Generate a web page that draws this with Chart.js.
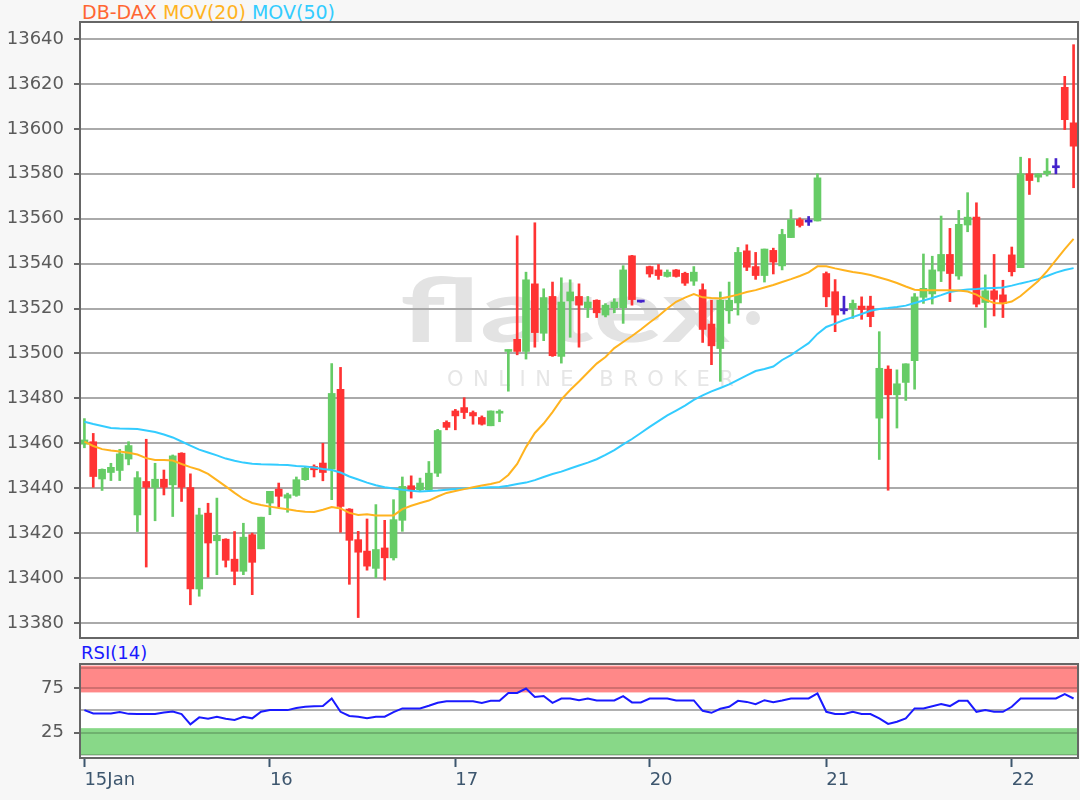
<!DOCTYPE html>
<html>
<head>
<meta charset="utf-8">
<script src="https://cdn.jsdelivr.net/npm/chart.js@4.4.1/dist/chart.umd.min.js"></script>
<style>
  body { margin: 0; width: 1080px; height: 800px; overflow: hidden; background: #f7f7f7; font-family: "DejaVu Sans", sans-serif; }
  canvas { position: absolute; left: 0; }
  #main { top: 0; }
  #rsi { top: 640px; }
  .title { position: absolute; left: 82px; top: 1px; font-size: 19px; line-height: 22px; white-space: pre; }
  .rsiLabel { position: absolute; left: 81px; top: 643px; font-size: 18px; line-height: 20px; color: #1a1aff; }
</style>
</head>
<body>
<div class="title"><span style="color:#ff6633">DB-DAX</span> <span style="color:#ffb31f">MOV(20)</span> <span style="color:#33ccff">MOV(50)</span></div>
<div class="rsiLabel">RSI(14)</div>
<canvas id="main" width="1080" height="660"></canvas>
<canvas id="rsi" width="1080" height="160"></canvas>
<script>
// Candles (one per bar)
var opens = [
  13459.6, 13460.7, 13444.1, 13447, 13447.9, 13453, 13428.1, 13443, 13440.3, 13444,
  13441.5, 13455.6, 13440.3, 13395.1, 13428.9, 13416.6, 13417.3, 13408.4, 13403, 13419.3,
  13413, 13433.4, 13439.6, 13435.6, 13436.8, 13443.8, 13449.7, 13451.2, 13448.5, 13484,
  13430.7, 13417.1, 13412, 13404.3, 13413.4, 13409, 13425.7, 13441.1, 13439.3, 13439.3,
  13446.7, 13469.3, 13474.4, 13475.9, 13473.7, 13471.5, 13467.8, 13473.4, 13500.9, 13506.3,
  13500.9, 13531, 13509, 13525.4, 13498.7, 13523.4, 13525.4, 13520.4, 13523.7, 13517.1,
  13520.4, 13520.4, 13543.5, 13522.9, 13538.7, 13537.2, 13534.3, 13537.2, 13535.7, 13532.2,
  13528.4, 13513.1, 13502.2, 13519, 13522.5, 13545.7, 13538.7, 13534.7, 13545.9, 13539,
  13551.6, 13559.6, 13558.5, 13559, 13535.6, 13527.5, 13519, 13520.1, 13521.1, 13521.1,
  13471.2, 13493, 13481.6, 13487.1, 13496.8, 13525, 13526.5, 13536.7, 13544.1, 13534.5,
  13557.2, 13560.7, 13522.7, 13527.9, 13526.1, 13543.9, 13538.2, 13580, 13578.5, 13580,
  13582.7, 13618.5, 13602.7
];
var highs = [
  13471, 13464.4, 13448.6, 13451.1, 13457.3, 13460.7, 13447.4, 13461.8, 13451.1, 13448.1,
  13454.8, 13455.8, 13446.4, 13431.1, 13433.3, 13435.6, 13417.5, 13420.7, 13424.4, 13420,
  13427.1, 13438.6, 13442.3, 13437.8, 13445, 13449.7, 13450.4, 13460, 13495.5, 13493.8,
  13430.9, 13420.8, 13426.3, 13432.7, 13425.7, 13434.9, 13445, 13445.5, 13444.5, 13451.9,
  13466.2, 13470, 13475.1, 13480.3, 13474.4, 13472.2, 13474.4, 13474.9, 13501.6, 13552.4,
  13536.2, 13558.2, 13528.8, 13531.8, 13533.7, 13532.8, 13531, 13525.4, 13523.9, 13522.2,
  13524.4, 13539.1, 13543.7, 13523, 13538.9, 13539.6, 13537.2, 13537.4, 13536.2, 13538.7,
  13531, 13523.7, 13527.4, 13531.8, 13547.2, 13548.4, 13545, 13546.5, 13546.9, 13555.3,
  13564, 13560.4, 13561, 13580, 13536.3, 13532.9, 13525.5, 13523.8, 13525.2, 13525.5,
  13509.7, 13494.5, 13492.7, 13495.4, 13526.7, 13544.3, 13543.3, 13561.2, 13555.7, 13563.7,
  13571.6, 13567.1, 13535, 13544.1, 13532.6, 13547.4, 13587.4, 13586.8, 13580, 13586.8,
  13586.8, 13623.4, 13637.5
];
var lows = [
  13458, 13440.4, 13439, 13443.4, 13443.4, 13450.4, 13420.7, 13404.9, 13425.5, 13437,
  13427.4, 13434.1, 13388.1, 13391.9, 13400.4, 13401.5, 13404.9, 13397, 13401.5, 13392.6,
  13413, 13428.2, 13431.6, 13429.3, 13436.4, 13443.5, 13445, 13443.3, 13434.9, 13420.4,
  13397.2, 13382.4, 13403.5, 13400.1, 13399.1, 13408, 13420.8, 13435.6, 13438.6, 13438.6,
  13445.2, 13466, 13466, 13471, 13468.5, 13468.1, 13467.8, 13469.6, 13483.2, 13499.4,
  13497.5, 13502.8, 13505.7, 13498.7, 13495.7, 13507.2, 13502.8, 13516, 13516, 13516.3,
  13518.1, 13513.4, 13521.5, 13522.8, 13534, 13533, 13534, 13534, 13530.3, 13530.3,
  13504.9, 13495, 13487.6, 13513.4, 13517.1, 13536.9, 13533, 13531.8, 13535.4, 13537.2,
  13551.6, 13556.3, 13557, 13559, 13520.8, 13509.7, 13517.5, 13515.6, 13515.2, 13511.9,
  13452.8, 13439.1, 13466.8, 13479.1, 13484.1, 13522.3, 13522, 13532, 13523.1, 13533,
  13554.2, 13520.7, 13511.6, 13516.7, 13516, 13534.5, 13538.2, 13570.8, 13576.4, 13579,
  13580, 13599.7, 13573.8
];
var closes = [
  13461.5, 13445.2, 13448.4, 13449.3, 13455.3, 13459, 13444.7, 13440.4, 13444, 13440.4,
  13454.4, 13440.4, 13395.1, 13428.1, 13415.6, 13419, 13407.9, 13403, 13418.2, 13407,
  13427.1, 13438.6, 13436.4, 13437.1, 13443.8, 13448.9, 13448.2, 13447, 13482.2, 13431.9,
  13416.8, 13411.5, 13405.3, 13412.7, 13409, 13426, 13440.8, 13439.3, 13442.3, 13446.7,
  13465.7, 13467.1, 13472.2, 13473.7, 13472.2, 13468.5, 13474.4, 13474, 13501.6, 13500.9,
  13532.8, 13509.3, 13524.9, 13499, 13522.9, 13527.4, 13521.5, 13522.9, 13518.1, 13521.5,
  13522.9, 13537.2, 13524, 13522.9, 13535.4, 13534.7, 13536.2, 13534.3, 13531.3, 13536.2,
  13510.7, 13503.4, 13523.7, 13523.7, 13545, 13538.4, 13534.7, 13546.5, 13540.7, 13553,
  13559.6, 13557, 13558.5, 13578.2, 13525.2, 13517.1, 13519, 13522.3, 13519.6, 13516.4,
  13493.4, 13481.6, 13486.5, 13495.4, 13525.2, 13529, 13537.2, 13544.1, 13535.6, 13557.5,
  13560.7, 13521.9, 13527.9, 13524.1, 13522.2, 13536.4, 13580, 13577, 13580, 13581.2,
  13582.7, 13604.1, 13592.3
];

// Moving averages at each bar
var ma20 = [
  13460.7, 13458.8, 13457.4, 13456.8, 13456.3, 13455.8, 13455.0, 13453.4, 13452.6, 13452.6,
  13452.3, 13450.8, 13449.4, 13448.2, 13446.4, 13443.6, 13440.8, 13437.9, 13435.2, 13433.4,
  13432.5, 13431.8, 13431.2, 13430.6, 13430.0, 13429.5, 13429.4, 13430.4, 13431.6, 13431.0,
  13429.0, 13428.1, 13428.4, 13427.9, 13427.8, 13427.9, 13430.7, 13432.2, 13433.4, 13434.5,
  13436.3, 13437.9, 13438.8, 13439.6, 13440.4, 13441.2, 13441.9, 13442.8, 13445.9, 13450.8,
  13458.3, 13464.6, 13468.8, 13473.9, 13479.5, 13483.7, 13487.5, 13491.5, 13495.5, 13498.4,
  13502.4, 13505.1, 13507.8, 13510.7, 13513.8, 13516.7, 13520.0, 13523.0, 13524.9, 13526.4,
  13525.0, 13524.7, 13524.5, 13525.3, 13526.2, 13527.4, 13528.2, 13529.4, 13530.5, 13531.8,
  13533.1, 13534.5, 13536.1, 13538.8, 13538.8, 13537.9, 13537.1, 13536.3, 13535.7, 13534.9,
  13533.8, 13532.7, 13531.4, 13529.8, 13528.4, 13528.2, 13528.2, 13528.2, 13528.2, 13528.0,
  13527.6, 13526.2, 13524.0, 13522.5, 13522.3, 13523.1, 13525.6, 13528.9, 13532.3, 13536.7,
  13541.6, 13546.5, 13551.0
];
var ma50 = [
  13469.6, 13468.6, 13467.7, 13466.8, 13466.6, 13466.5, 13466.4, 13465.7, 13465.0, 13463.9,
  13462.6, 13460.8, 13459.0, 13457.2, 13455.9, 13454.6, 13453.2, 13452.2, 13451.4, 13450.9,
  13450.7, 13450.6, 13450.4, 13450.3, 13449.9, 13449.7, 13449.2, 13448.6, 13448.1, 13447.0,
  13445.2, 13443.9, 13442.5, 13441.3, 13440.4, 13439.9, 13439.3, 13438.9, 13438.5, 13438.8,
  13439.0, 13439.3, 13439.6, 13439.9, 13440.1, 13440.2, 13440.4, 13440.5, 13441.1, 13441.9,
  13442.5, 13443.6, 13445.0, 13446.3, 13447.4, 13448.8, 13450.1, 13451.4, 13452.9, 13454.8,
  13457.0, 13459.5, 13461.9, 13464.6, 13467.3, 13469.9, 13472.4, 13474.6, 13476.8, 13479.3,
  13481.3, 13483.1, 13484.6, 13486.2, 13488.2, 13490.2, 13492.2, 13493.1, 13494.2, 13497.1,
  13499.3, 13502.0, 13504.6, 13508.7, 13511.8, 13513.3, 13514.9, 13516.2, 13517.6, 13519.0,
  13519.8, 13520.2, 13520.7, 13521.3, 13522.5, 13523.6, 13524.7, 13526.0, 13527.4, 13528.0,
  13528.5, 13528.7, 13529.0, 13529.2, 13529.4, 13530.2, 13531.2, 13532.1, 13533.1, 13534.5,
  13536.0, 13537.2, 13538.0
];

// RSI(14)
var rsi = [
  50.2, 46.5, 46.5, 46.5, 48, 46, 45.8, 45.8, 45.8, 47.5,
  48.5, 45.8, 34.3, 42.1, 40.6, 42.8, 40.6, 39.1, 42.8, 41,
  48.3, 50.2, 50.2, 50.2, 52.5, 53.9, 54.5, 54.7, 63.2, 48.3,
  43.6, 42.8, 41, 42.8, 42.8, 48, 52.1, 52.1, 52.1, 55,
  58.5, 60.2, 60.2, 60.2, 60.2, 58.3, 60.6, 60.6, 69.4, 69.4,
  74.3, 65, 66, 58.3, 63.2, 63.2, 61.3, 63.2, 61, 61,
  61, 65.8, 58.8, 58.8, 63.2, 63.2, 63.2, 61, 61, 61,
  49.4, 47.2, 51.7, 53.9, 60.6, 59.4, 56.9, 61.3, 59.1, 61,
  63.2, 63.2, 63.2, 68.8, 48.3, 45.8, 45.8, 48.3, 45.8, 45.8,
  41, 34.7, 37.2, 41, 52.1, 52.1, 54.5, 56.9, 54.7, 60.6,
  60.6, 48.3, 50.2, 48.3, 48.3, 53.9, 63.2, 63.2, 63.2, 63.2,
  63.2, 68, 63.2
];

// Axis labels
var yTicks = [13380, 13400, 13420, 13440, 13460, 13480, 13500, 13520, 13540, 13560, 13580, 13600, 13620, 13640];
var rsiTicks = [25, 75];
var dayLabels = ["15Jan", "16", "17", "20", "21", "22"];
var dayStart = [0, 21, 42, 64, 84, 105];

var UP = "#66cc66", DOWN = "#ff3333", FLAT = "#4422cc";
var labelFont = { family: "DejaVu Sans", size: 18 };

var bars = opens.map(function (o, i) { return i; });
var candleColor = opens.map(function (o, i) {
  return closes[i] > o ? UP : closes[i] < o ? DOWN : FLAT;
});

// white plot area, watermark and frame
var mainDecor = {
  id: "mainDecor",
  beforeDraw: function (chart) {
    var ctx = chart.ctx, a = chart.chartArea;
    ctx.save();
    ctx.fillStyle = "#ffffff";
    ctx.fillRect(a.left, a.top, a.width, a.height);

    ctx.fillStyle = "#e3e3e3";
    ctx.font = "bold 88px Lato";
    var mark = "flatex";
    var w = ctx.measureText(mark).width;
    ctx.save();
    ctx.translate(a.left + 320, a.top + 320);
    ctx.scale(330 / w, 1);
    ctx.fillText(mark, 0, 0);
    ctx.restore();
    ctx.beginPath();
    ctx.arc(a.left + 673, a.top + 296, 7, 0, Math.PI * 2);
    ctx.fill();

    ctx.fillStyle = "#e6e6e6";
    ctx.font = "21px 'DejaVu Sans'";
    var x = a.left + 367;
    "ONLINE BROKER".split("").forEach(function (ch) {
      ctx.fillText(ch, x, a.top + 364);
      x += ctx.measureText(ch).width + 9.5;
    });
    ctx.restore();
  },
  afterDraw: function (chart) {
    var ctx = chart.ctx, a = chart.chartArea;
    ctx.save();
    ctx.strokeStyle = "#666666";
    ctx.lineWidth = 2;
    ctx.strokeRect(a.left, a.top, a.width, a.height);
    ctx.restore();
  }
};

new Chart(document.getElementById("main"), {
  type: "bar",
  data: {
    labels: bars,
    datasets: [
      { type: "line", label: "MOV(20)", data: ma20, borderColor: "#ffb31f", borderWidth: 2, pointRadius: 0, order: 0 },
      { type: "line", label: "MOV(50)", data: ma50, borderColor: "#33ccff", borderWidth: 2, pointRadius: 0, order: 0 },
      {
        label: "body",
        data: opens.map(function (o, i) { return [Math.min(o, closes[i]), Math.max(o, closes[i])]; }),
        backgroundColor: candleColor,
        barThickness: 7,
        minBarLength: 2,
        grouped: false,
        order: 1
      },
      {
        label: "wick",
        data: lows.map(function (l, i) { return [l, highs[i]]; }),
        backgroundColor: candleColor,
        barThickness: 2,
        grouped: false,
        order: 2
      }
    ]
  },
  options: {
    responsive: false,
    animation: false,
    layout: { padding: { top: 22, right: 2, bottom: 22, left: 0 } },
    plugins: { legend: { display: false }, tooltip: { enabled: false } },
    scales: {
      x: { display: false, offset: true },
      y: {
        min: 13373.3,
        max: 13647.6,
        afterBuildTicks: function (axis) { axis.ticks = yTicks.map(function (v) { return { value: v }; }); },
        afterFit: function (axis) { axis.width = 80; },
        ticks: { color: "#5a5a5a", font: labelFont, padding: 10, callback: function (v) { return String(v); } },
        grid: { color: "#aaaaaa", lineWidth: 2, tickLength: 6, tickColor: "#666666" },
        border: { display: false }
      }
    }
  },
  plugins: [mainDecor]
});

// RSI panel: bands, mid line and frame
var rsiDecor = {
  id: "rsiDecor",
  beforeDraw: function (chart) {
    var ctx = chart.ctx, a = chart.chartArea, y = chart.scales.y;
    ctx.save();
    ctx.fillStyle = "#ffffff";
    ctx.fillRect(a.left, a.top, a.width, a.height);
    ctx.fillStyle = "#ff8888";
    ctx.fillRect(a.left, y.getPixelForValue(100), a.width, y.getPixelForValue(70) - y.getPixelForValue(100));
    ctx.fillStyle = "#88d888";
    ctx.fillRect(a.left, y.getPixelForValue(30), a.width, y.getPixelForValue(0) - y.getPixelForValue(30));
    ctx.restore();
  },
  beforeDatasetsDraw: function (chart) {
    var ctx = chart.ctx, a = chart.chartArea, y = chart.scales.y;
    ctx.save();
    ctx.lineWidth = 2;
    [[50, "#b0b0b0"], [97, "rgba(0,0,0,0.18)"], [0, "rgba(0,0,0,0.18)"]].forEach(function (l) {
      var py = Math.round(y.getPixelForValue(l[0]));
      ctx.strokeStyle = l[1];
      ctx.beginPath();
      ctx.moveTo(a.left, py);
      ctx.lineTo(a.right, py);
      ctx.stroke();
    });
    ctx.restore();
  },
  afterDraw: function (chart) {
    var ctx = chart.ctx, a = chart.chartArea;
    ctx.save();
    ctx.strokeStyle = "#666666";
    ctx.lineWidth = 2;
    ctx.strokeRect(a.left, a.top, a.width, a.height);
    ctx.restore();
  }
};

new Chart(document.getElementById("rsi"), {
  type: "line",
  data: {
    labels: bars,
    datasets: [{ label: "RSI(14)", data: rsi, borderColor: "#1a1aff", borderWidth: 2, pointRadius: 0 }]
  },
  options: {
    responsive: false,
    animation: false,
    layout: { padding: { top: 24, right: 2, bottom: 0, left: 0 } },
    plugins: { legend: { display: false }, tooltip: { enabled: false } },
    scales: {
      x: {
        offset: true,
        afterBuildTicks: function (axis) { axis.ticks = dayStart.map(function (v) { return { value: v }; }); },
        afterFit: function (axis) { axis.height = 42; },
        ticks: {
          autoSkip: false,
          maxRotation: 0,
          align: "start",
          padding: 3,
          color: "#3d566e",
          font: labelFont,
          callback: function (v) { return dayLabels[dayStart.indexOf(v)]; }
        },
        grid: { drawOnChartArea: false, offset: false, tickLength: 9, tickWidth: 2, tickColor: "#3d566e" },
        border: { display: false }
      },
      y: {
        min: -3.4,
        max: 101.8,
        afterBuildTicks: function (axis) { axis.ticks = rsiTicks.map(function (v) { return { value: v }; }); },
        afterFit: function (axis) { axis.width = 80; },
        ticks: { color: "#5a5a5a", font: labelFont, padding: 10 },
        grid: { color: "rgba(0,0,0,0.18)", lineWidth: 2, tickLength: 6, tickColor: "#666666" },
        border: { display: false }
      }
    }
  },
  plugins: [rsiDecor]
});
</script>
</body>
</html>
